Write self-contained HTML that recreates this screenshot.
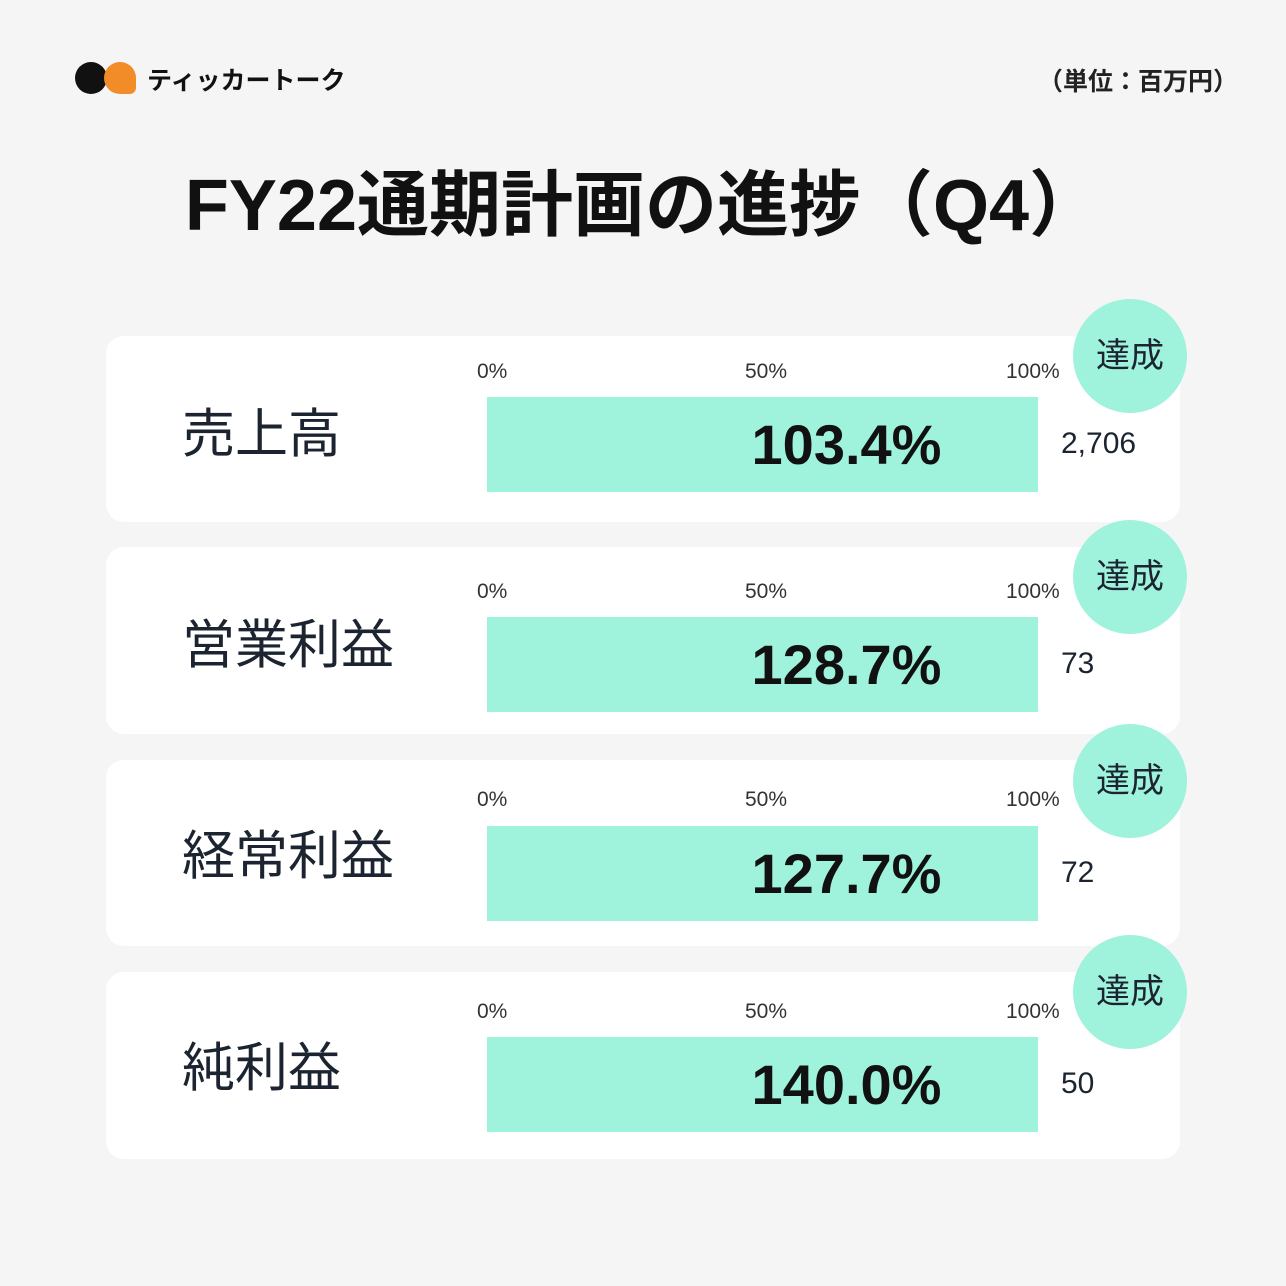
<!DOCTYPE html><html><head><meta charset="utf-8"><style>
body{margin:0;width:1286px;height:1286px;background:#f5f5f5;position:relative;overflow:hidden;font-family:"Liberation Sans","Noto Sans CJK JP",sans-serif;color:#1b2430}
.a{position:absolute;white-space:nowrap}
.card{position:absolute;left:106px;width:1074px;background:#fff;border-radius:18px}
.bar{position:absolute;left:487px;width:551px;height:95px;background:#9ff2dc}
.pct{position:absolute;left:487px;width:551px;text-align:center;font-weight:bold;font-size:56px;line-height:95px;padding-left:168px;box-sizing:border-box;color:#111}
.t{position:absolute;font-size:21px;color:#333;transform:translateY(-50%)}
.c{position:absolute;width:114px;height:114px;border-radius:50%;background:#9ff2dc;text-align:center;line-height:114px;font-size:34px;left:1073px}
.lab{position:absolute;left:182px;font-size:53px;transform:translateY(-50%)}
.v{position:absolute;left:1061px;font-size:30px;transform:translateY(-50%)}
</style></head><body>
<div class="a" style="left:75px;top:62px;width:32px;height:32px;border-radius:50%;background:#111"></div>
<div class="a" style="left:104px;top:62px;width:32px;height:32px;border-radius:50% 50% 20% 50%;background:#f28c28"></div>
<div class="a" style="left:147px;top:61px;font-size:25px;font-weight:bold;color:#111">ティッカートーク</div>
<div class="a" style="left:1038px;top:62px;font-size:25px;font-weight:bold;color:#222">（単位：百万円）</div>
<div class="a" style="left:0;width:1286px;text-align:center;top:146px;font-size:72px;font-weight:bold;color:#111">FY22通期計画の進捗（Q4）</div>

<div class="card" style="top:336px;height:186px"></div>
<div class="card" style="top:547px;height:187px"></div>
<div class="card" style="top:760px;height:186px"></div>
<div class="card" style="top:972px;height:187px"></div>

<div class="lab" style="top:430px">売上高</div>
<div class="lab" style="top:641px">営業利益</div>
<div class="lab" style="top:852px">経常利益</div>
<div class="lab" style="top:1064px">純利益</div>

<div class="t" style="left:477px;top:372px">0%</div><div class="t" style="left:745px;top:372px">50%</div><div class="t" style="left:1006px;top:372px">100%</div>
<div class="t" style="left:477px;top:592px">0%</div><div class="t" style="left:745px;top:592px">50%</div><div class="t" style="left:1006px;top:592px">100%</div>
<div class="t" style="left:477px;top:800px">0%</div><div class="t" style="left:745px;top:800px">50%</div><div class="t" style="left:1006px;top:800px">100%</div>
<div class="t" style="left:477px;top:1012px">0%</div><div class="t" style="left:745px;top:1012px">50%</div><div class="t" style="left:1006px;top:1012px">100%</div>

<div class="bar" style="top:397px"></div><div class="pct" style="top:397px">103.4%</div>
<div class="bar" style="top:617px"></div><div class="pct" style="top:617px">128.7%</div>
<div class="bar" style="top:826px"></div><div class="pct" style="top:826px">127.7%</div>
<div class="bar" style="top:1037px"></div><div class="pct" style="top:1037px">140.0%</div>

<div class="v" style="top:444px">2,706</div>
<div class="v" style="top:664px">73</div>
<div class="v" style="top:873px">72</div>
<div class="v" style="top:1084px">50</div>

<div class="c" style="top:299px">達成</div>
<div class="c" style="top:520px">達成</div>
<div class="c" style="top:724px">達成</div>
<div class="c" style="top:935px">達成</div>
</body></html>
